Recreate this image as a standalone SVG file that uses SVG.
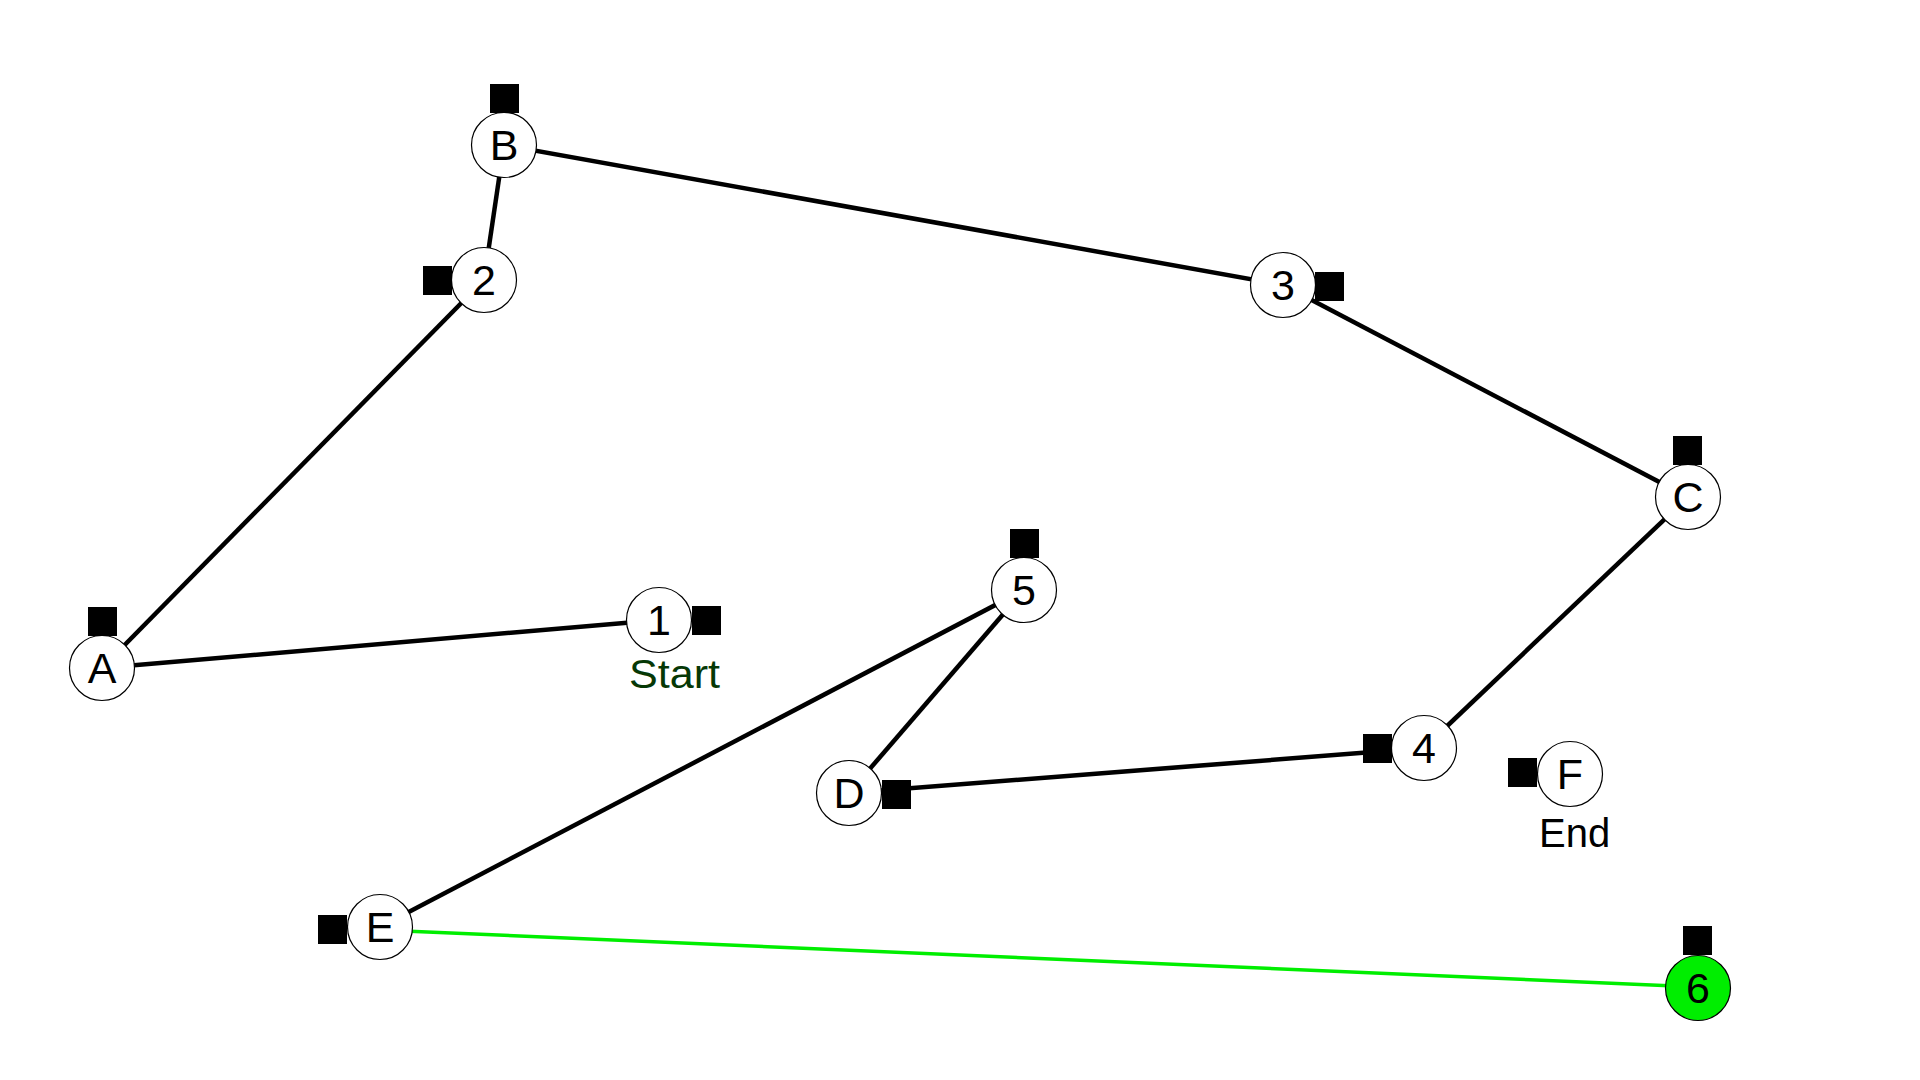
<svg xmlns="http://www.w3.org/2000/svg" width="1920" height="1080" viewBox="0 0 1920 1080">
<style>
.n{fill:#fff;stroke:#000;stroke-width:1.2}
.g{fill:#00ee00;stroke:#000;stroke-width:1.2}
.sq{fill:#000}
.t{font-family:"Liberation Sans",Arial,sans-serif;font-size:43px;text-anchor:middle;fill:#000}
.lab{font-family:"Liberation Sans",Arial,sans-serif;font-size:40px;fill:#000}
.e{stroke:#000;stroke-width:4.5;fill:none}
.eg{stroke:#00ee00;stroke-width:3.5;fill:none}
</style>
<rect width="1920" height="1080" fill="#fff"/>
<g id="connectors">
<line class="e" x1="102" y1="668" x2="659" y2="620"/>
<line class="e" x1="102" y1="668" x2="484" y2="280"/>
<line class="e" x1="484" y1="280" x2="504" y2="145"/>
<line class="e" x1="504" y1="145" x2="1283" y2="285"/>
<line class="e" x1="1283" y1="285" x2="1688" y2="497"/>
<line class="e" x1="1688" y1="497" x2="1424" y2="748"/>
<line class="e" x1="1424" y1="748" x2="849" y2="793"/>
<line class="e" x1="849" y1="793" x2="1024" y2="590"/>
<line class="e" x1="1024" y1="590" x2="380" y2="927"/>
<line class="eg" x1="380" y1="930" x2="1698" y2="987"/>
</g>
<g id="node-A"><circle class="n" cx="102" cy="668" r="32.5"/><rect class="sq" x="88" y="607" width="29" height="29"/><text class="t" x="102" y="683">A</text></g>
<g id="node-1"><circle class="n" cx="659" cy="620" r="32.5"/><rect class="sq" x="692" y="606" width="29" height="29"/><text class="t" x="659" y="635">1</text><text class="lab" x="629" y="688" style="fill:#063806" textLength="91" lengthAdjust="spacingAndGlyphs">Start</text></g>
<g id="node-2"><circle class="n" cx="484" cy="280" r="32.5"/><rect class="sq" x="423" y="266" width="29" height="29"/><text class="t" x="484" y="295">2</text></g>
<g id="node-B"><circle class="n" cx="504" cy="145" r="32.5"/><rect class="sq" x="490" y="84" width="29" height="29"/><text class="t" x="504" y="160">B</text></g>
<g id="node-3"><circle class="n" cx="1283" cy="285" r="32.5"/><rect class="sq" x="1315" y="272" width="29" height="29"/><text class="t" x="1283" y="300">3</text></g>
<g id="node-C"><circle class="n" cx="1688" cy="497" r="32.5"/><rect class="sq" x="1673" y="436" width="29" height="29"/><text class="t" x="1688" y="512">C</text></g>
<g id="node-5"><circle class="n" cx="1024" cy="590" r="32.5"/><rect class="sq" x="1010" y="529" width="29" height="29"/><text class="t" x="1024" y="605">5</text></g>
<g id="node-D"><circle class="n" cx="849" cy="793" r="32.5"/><rect class="sq" x="882" y="780" width="29" height="29"/><text class="t" x="849" y="808">D</text></g>
<g id="node-4"><circle class="n" cx="1424" cy="748" r="32.5"/><rect class="sq" x="1363" y="734" width="29" height="29"/><text class="t" x="1424" y="763">4</text></g>
<g id="node-F"><circle class="n" cx="1570" cy="774" r="32.5"/><rect class="sq" x="1508" y="758" width="29" height="29"/><text class="t" x="1570" y="789">F</text><text class="lab" x="1539" y="847">End</text></g>
<g id="node-E"><circle class="n" cx="380" cy="927" r="32.5"/><rect class="sq" x="318" y="915" width="29" height="29"/><text class="t" x="380" y="942">E</text></g>
<g id="node-6"><circle class="g" cx="1698" cy="988" r="32.5"/><rect class="sq" x="1683" y="926" width="29" height="29"/><text class="t" x="1698" y="1003">6</text></g>
</svg>
